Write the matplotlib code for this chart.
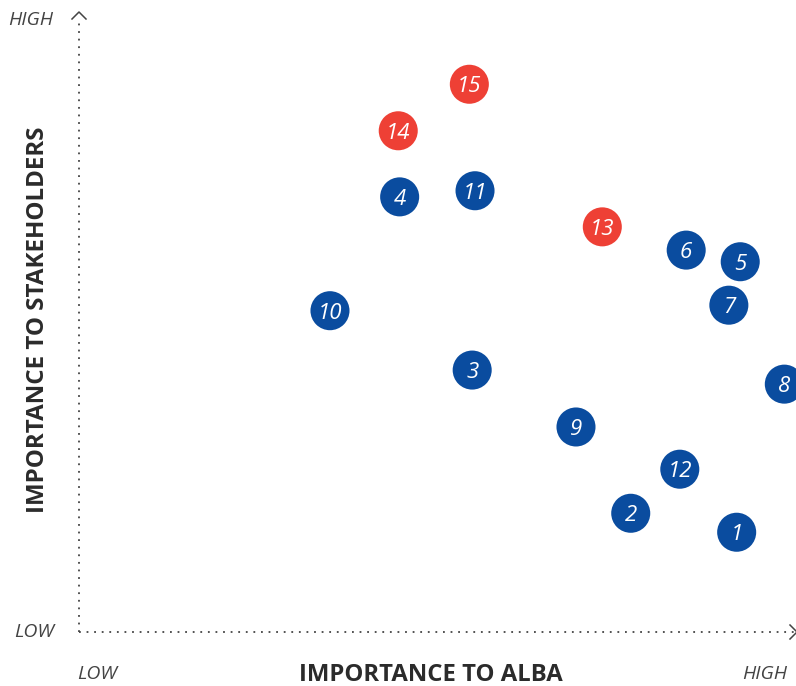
import matplotlib.pyplot as plt

plt.rcParams['font.family'] = ['Open Sans', 'DejaVu Sans']

# issue number, importance to Alba (x), importance to stakeholders (y)
issues = ['1', '2', '3', '4', '5', '6', '7', '8', '9', '10', '11', '12', '13', '14', '15']
alba = [9.25, 7.76, 5.53, 4.51, 9.30, 8.54, 9.14, 9.92, 6.99, 3.53, 5.57, 8.45, 7.36, 4.49, 5.49]
stakeholders = [1.63, 1.94, 4.28, 7.11, 6.05, 6.24, 5.34, 4.05, 3.35, 5.25, 7.21, 2.66, 6.62, 8.19, 8.95]
priority = [False] * 12 + [True] * 3

blue = '#0a4c9f'
red = '#ee4035'
grey = '#444444'

W, H = 796, 686
fig = plt.figure(figsize=(W / 100, H / 100), dpi=100)
ax = fig.add_axes([79 / W, (H - 632) / H, (790 - 79) / W, (632 - 20) / H])
ax.set_xlim(0, 10)
ax.set_ylim(0, 10)
ax.axis('off')

# dotted axes with open chevron heads
tr = ax.transAxes
x_end = (796 - 79) / (790 - 79)
y_end = (632 - 18) / (632 - 20)
ax.plot([0, x_end], [0, 0], transform=tr, color=grey, lw=1.3,
        linestyle=(0, (1, 3.2)), clip_on=False)
ax.plot([0, 0], [0, y_end], transform=tr, color=grey, lw=1.3,
        linestyle=(0, (1, 3.2)), clip_on=False)
fig.lines.append(plt.Line2D([790 / W, 797 / W, 790 / W],
                            [(H - 625) / H, (H - 632) / H, (H - 639) / H],
                            transform=fig.transFigure, color=grey, lw=1.1))
fig.lines.append(plt.Line2D([72 / W, 79 / W, 86 / W],
                            [(H - 19) / H, (H - 12) / H, (H - 19) / H],
                            transform=fig.transFigure, color=grey, lw=1.1))

colors = [red if p else blue for p in priority]
ax.scatter(alba, stakeholders, s=790, c=colors, edgecolors='none',
           clip_on=False, zorder=3)
for lbl, x, y in zip(issues, alba, stakeholders):
    ax.text(x, y, lbl, color='white', fontsize=16, fontstyle='italic',
            ha='center', va='center_baseline', zorder=4)

# axis labels
fig.text(431 / W, 1 - 675 / H, 'IMPORTANCE TO ALBA', fontsize=17.2, fontweight='bold',
         color='#2b2b2b', ha='center', va='center')
fig.text(38 / W, 1 - 320 / H, 'IMPORTANCE TO STAKEHOLDERS', fontsize=17.4,
         fontweight='bold', color='#2b2b2b', ha='center', va='center', rotation=90)

# range labels
for txt, px, py in [('HIGH', 31, 20), ('LOW', 34, 632), ('LOW', 97, 674), ('HIGH', 765, 674)]:
    fig.text(px / W, 1 - py / H, txt, fontsize=14, fontstyle='italic',
             color=grey, ha='center', va='center')

fig.savefig('out.png', dpi=100)
